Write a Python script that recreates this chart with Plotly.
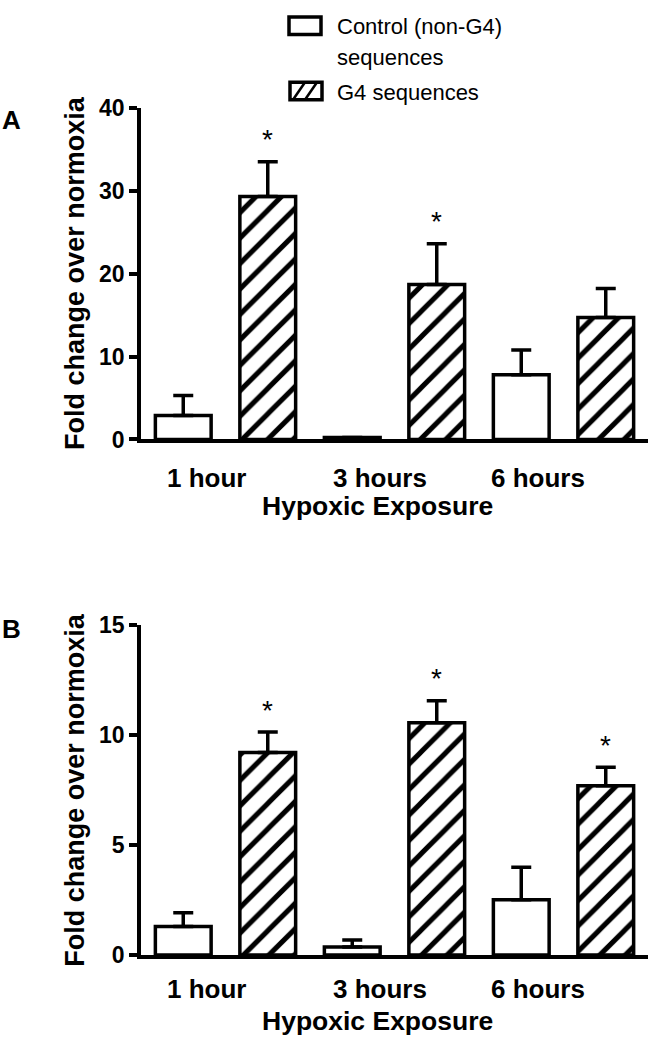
import plotly.graph_objects as go

# ---- data ----
categories = ["1 hour", "3 hours", "6 hours"]
a_control = [2.9, 0.25, 7.8]
a_control_err = [2.4, 0.0, 3.0]
a_g4 = [29.3, 18.7, 14.7]
a_g4_err = [4.2, 4.9, 3.5]
a_sig = [True, True, False]

b_control = [1.3, 0.37, 2.51]
b_control_err = [0.62, 0.31, 1.48]
b_g4 = [9.2, 10.55, 7.69]
b_g4_err = [0.93, 1.0, 0.84]
b_sig = [True, True, True]

a_ticks = [0, 10, 20, 30, 40]
b_ticks = [0, 5, 10, 15]
label_pos = [-0.111, 0.914, 1.849]   # where Prism put the category labels
group_x = [0, 1, 2]

FONT = "Arial, Liberation Sans, sans-serif"
W, H = 649, 1050
LW = 3.5

fig = go.Figure()

def add_panel(ctrl, ctrl_err, g4, g4_err, xa, ya):
    fig.add_trace(go.Bar(
        x=group_x, y=ctrl, xaxis=xa, yaxis=ya, name="Control (non-G4) sequences",
        marker=dict(color="white", line=dict(color="black", width=LW)),
        error_y=dict(type="data", symmetric=False, array=ctrl_err,
                     arrayminus=[0] * len(ctrl), color="black", thickness=LW, width=10),
        showlegend=False, offsetgroup="c", hoverinfo="skip"))
    fig.add_trace(go.Bar(
        x=group_x, y=g4, xaxis=xa, yaxis=ya, name="G4 sequences",
        marker=dict(color="white", line=dict(color="black", width=LW),
                    pattern=dict(shape="/", fgcolor="black", bgcolor="white",
                                 fgopacity=1, size=18, solidity=0.28)),
        error_y=dict(type="data", symmetric=False, array=g4_err,
                     arrayminus=[0] * len(g4), color="black", thickness=LW, width=10),
        showlegend=False, offsetgroup="g", hoverinfo="skip"))

add_panel(a_control, a_control_err, a_g4, a_g4_err, "x", "y")
add_panel(b_control, b_control_err, b_g4, b_g4_err, "x2", "y2")

# significance stars
for xa, ya, g4, err, sig in [("x", "y", a_g4, a_g4_err, a_sig),
                             ("x2", "y2", b_g4, b_g4_err, b_sig)]:
    for i, s in enumerate(sig):
        if s:
            fig.add_annotation(x=group_x[i] + 0.25, y=g4[i] + err[i], xref=xa, yref=ya,
                               text="*", showarrow=False, yanchor="middle", yshift=22,
                               font=dict(family=FONT, size=28, color="black"))

xdom = [141 / W, 648 / W]
ydomA = [1 - 437.3 / H, 1 - 97.3 / H]
ydomB = [1 - 966 / H, 1 - 627.3 / H]

def xaxis_cfg(ticklen):
    return dict(range=[-0.5, 2.5], showline=True, linecolor="black", linewidth=LW,
                tickvals=label_pos, ticktext=categories, ticks="outside", ticklen=ticklen,
                tickcolor="rgba(0,0,0,0)", showgrid=False, zeroline=False, fixedrange=True,
                tickfont=dict(family=FONT, size=26, color="black", weight="bold"))

ycommon = dict(showline=True, linecolor="black", linewidth=LW, ticks="outside",
               ticklen=8, tickwidth=LW, tickcolor="black", showgrid=False, zeroline=False,
               fixedrange=True,
               tickfont=dict(family=FONT, size=23, color="black", weight="bold"))

fig.update_layout(
    width=W, height=H, margin=dict(l=0, r=0, t=0, b=0),
    paper_bgcolor="white", plot_bgcolor="white",
    barmode="group", bargap=0, bargroupgap=0.34,
    xaxis=dict(domain=xdom, anchor="y", **xaxis_cfg(13)),
    yaxis=dict(domain=ydomA, anchor="x", range=[0, 40], tickvals=a_ticks, **ycommon),
    xaxis2=dict(domain=xdom, anchor="y2", **xaxis_cfg(8)),
    yaxis2=dict(domain=ydomB, anchor="x2", range=[0, 15], tickvals=b_ticks, **ycommon),
    font=dict(family=FONT, color="black"),
)

def px_annot(text, x, y, size, bold=True, angle=0, xanchor="center"):
    fig.add_annotation(xref="paper", yref="paper", x=x / W, y=1 - y / H, text=text,
                       showarrow=False, xanchor=xanchor, yanchor="middle", textangle=angle,
                       font=dict(family=FONT, size=size, color="black",
                                 weight="bold" if bold else "normal"))

# axis titles
px_annot("Hypoxic Exposure", 377, 506, 26.5)
px_annot("Hypoxic Exposure", 377, 1034, 26.5)
px_annot("Fold change over normoxia", 75.5, 267, 27, angle=-90)
px_annot("Fold change over normoxia", 75.5, 797, 27, angle=-90)
# panel letters
px_annot("A", 11, 110, 26)
px_annot("B", 11, 632, 26)

# legend (drawn manually to match the original box style)
px_annot("Control (non-G4)", 335, 14, 22, bold=False, xanchor="left")
px_annot("sequences", 335, 46, 22, bold=False, xanchor="left")
px_annot("G4 sequences", 335, 82, 22, bold=False, xanchor="left")

def px_rect(x0, y0, x1, y1):
    fig.add_shape(type="rect", xref="paper", yref="paper", x0=x0 / W, x1=x1 / W,
                  y0=1 - y0 / H, y1=1 - y1 / H, line=dict(color="black", width=LW),
                  fillcolor="white")

def px_line(x0, y0, x1, y1):
    fig.add_shape(type="line", xref="paper", yref="paper", x0=x0 / W, x1=x1 / W,
                  y0=1 - y0 / H, y1=1 - y1 / H, line=dict(color="black", width=2.5))

px_rect(289, 4, 321, 22)
px_rect(290, 71, 322, 89)
px_line(293, 89, 305, 71)
px_line(305, 89, 317, 71)

fig.write_html("out.html", config={"displayModeBar": False},
               post_script="document.body.style.margin='0';")
